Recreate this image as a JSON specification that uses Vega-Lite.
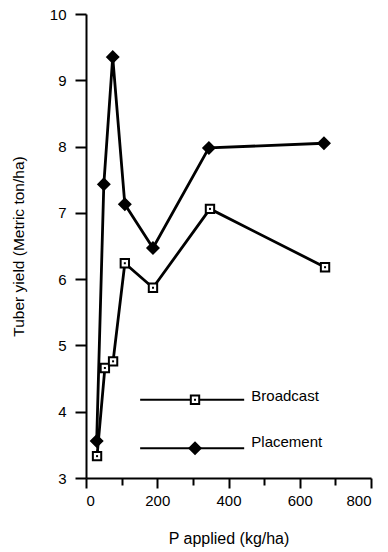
{
  "$schema": "https://vega.github.io/schema/vega-lite/v6.json",
  "autosize": "none",
  "width": 285,
  "height": 464,
  "padding": {"left": 86, "top": 14, "right": 17, "bottom": 74},
  "background": "white",
  "config": {
    "view": {"stroke": null},
    "axis": {
      "grid": false,
      "domainColor": "black",
      "domainWidth": 2,
      "tickColor": "black",
      "tickWidth": 2,
      "labelFont": "Liberation Sans",
      "labelFontSize": 15,
      "labelColor": "black",
      "titleFont": "Liberation Sans",
      "titleFontSize": 15.5,
      "titleFontWeight": "normal",
      "titleColor": "black"
    }
  },
  "datasets": {
    "pts": [
      {"kind": "series", "method": "Placement", "p": 30, "yield": 3.56},
      {"kind": "series", "method": "Placement", "p": 50, "yield": 7.43},
      {"kind": "series", "method": "Placement", "p": 75, "yield": 9.35},
      {"kind": "series", "method": "Placement", "p": 109, "yield": 7.13},
      {"kind": "series", "method": "Placement", "p": 188, "yield": 6.47},
      {"kind": "series", "method": "Placement", "p": 345, "yield": 7.98},
      {"kind": "series", "method": "Placement", "p": 668, "yield": 8.05},
      {"kind": "series", "method": "Broadcast", "p": 31, "yield": 3.33},
      {"kind": "series", "method": "Broadcast", "p": 53, "yield": 4.66},
      {"kind": "series", "method": "Broadcast", "p": 76, "yield": 4.76},
      {"kind": "series", "method": "Broadcast", "p": 109, "yield": 6.24},
      {"kind": "series", "method": "Broadcast", "p": 188, "yield": 5.87},
      {"kind": "series", "method": "Broadcast", "p": 348, "yield": 7.06},
      {"kind": "series", "method": "Broadcast", "p": 671, "yield": 6.18},
      {"kind": "legend", "method": "Broadcast", "p": 306, "yield": 4.18},
      {"kind": "legend", "method": "Placement", "p": 306, "yield": 3.45}
    ],
    "legline": [
      {"method": "Broadcast", "p": 152, "yield": 4.18},
      {"method": "Broadcast", "p": 444, "yield": 4.18},
      {"method": "Placement", "p": 152, "yield": 3.45},
      {"method": "Placement", "p": 444, "yield": 3.45}
    ],
    "labels": [
      {"label": "Broadcast", "p": 464, "yield": 4.24},
      {"label": "Placement", "p": 464, "yield": 3.54}
    ]
  },
  "encoding": {
    "x": {
      "field": "p",
      "type": "quantitative",
      "scale": {"domain": [0, 800], "nice": false, "zero": false},
      "axis": {
        "title": "P applied (kg/ha)",
        "titleFontSize": 16,
        "format": "d",
        "values": [0, 100, 200, 300, 400, 500, 600, 700, 800],
        "labelExpr": "datum.value % 200 === 0 ? datum.label : ''",
        "tickSize": {"condition": {"test": "datum.value % 200 === 0", "value": 10}, "value": 7},
        "labelPadding": 5,
        "titlePadding": 22
      }
    },
    "y": {
      "field": "yield",
      "type": "quantitative",
      "scale": {"domain": [3, 10], "nice": false, "zero": false},
      "axis": {
        "title": "Tuber yield (Metric ton/ha)",
        "format": "d",
        "values": [3, 3.5, 4, 4.5, 5, 5.5, 6, 6.5, 7, 7.5, 8, 8.5, 9, 9.5, 10],
        "labelExpr": "datum.value % 1 === 0 ? datum.label : ''",
        "tickSize": {"condition": {"test": "datum.value % 1 === 0", "value": 11}, "value": 7},
        "labelPadding": 9,
        "titlePadding": 23
      }
    }
  },
  "layer": [
    {
      "data": {"name": "pts"},
      "transform": [{"filter": "datum.kind === 'series'"}],
      "mark": {"type": "line", "color": "black", "strokeWidth": 2.8},
      "encoding": {"detail": {"field": "method"}}
    },
    {
      "data": {"name": "legline"},
      "mark": {"type": "line", "color": "black", "strokeWidth": 2},
      "encoding": {"detail": {"field": "method"}}
    },
    {
      "data": {"name": "pts"},
      "mark": {"type": "point", "filled": false, "strokeWidth": 2, "stroke": "black", "opacity": 1},
      "encoding": {
        "shape": {"field": "method", "scale": {"domain": ["Broadcast", "Placement"], "range": ["square", "diamond"]}, "legend": null},
        "fill": {"field": "method", "scale": {"domain": ["Broadcast", "Placement"], "range": ["white", "black"]}, "legend": null},
        "size": {"field": "method", "scale": {"domain": ["Broadcast", "Placement"], "range": [70, 125]}, "legend": null}
      }
    },
    {
      "data": {"name": "pts"},
      "transform": [{"filter": "datum.method === 'Broadcast'"}],
      "mark": {"type": "square", "color": "black", "size": 4, "opacity": 1}
    },
    {
      "data": {"name": "labels"},
      "mark": {"type": "text", "align": "left", "baseline": "middle", "font": "Liberation Sans", "fontSize": 15, "color": "black"},
      "encoding": {"text": {"field": "label"}}
    }
  ]
}
